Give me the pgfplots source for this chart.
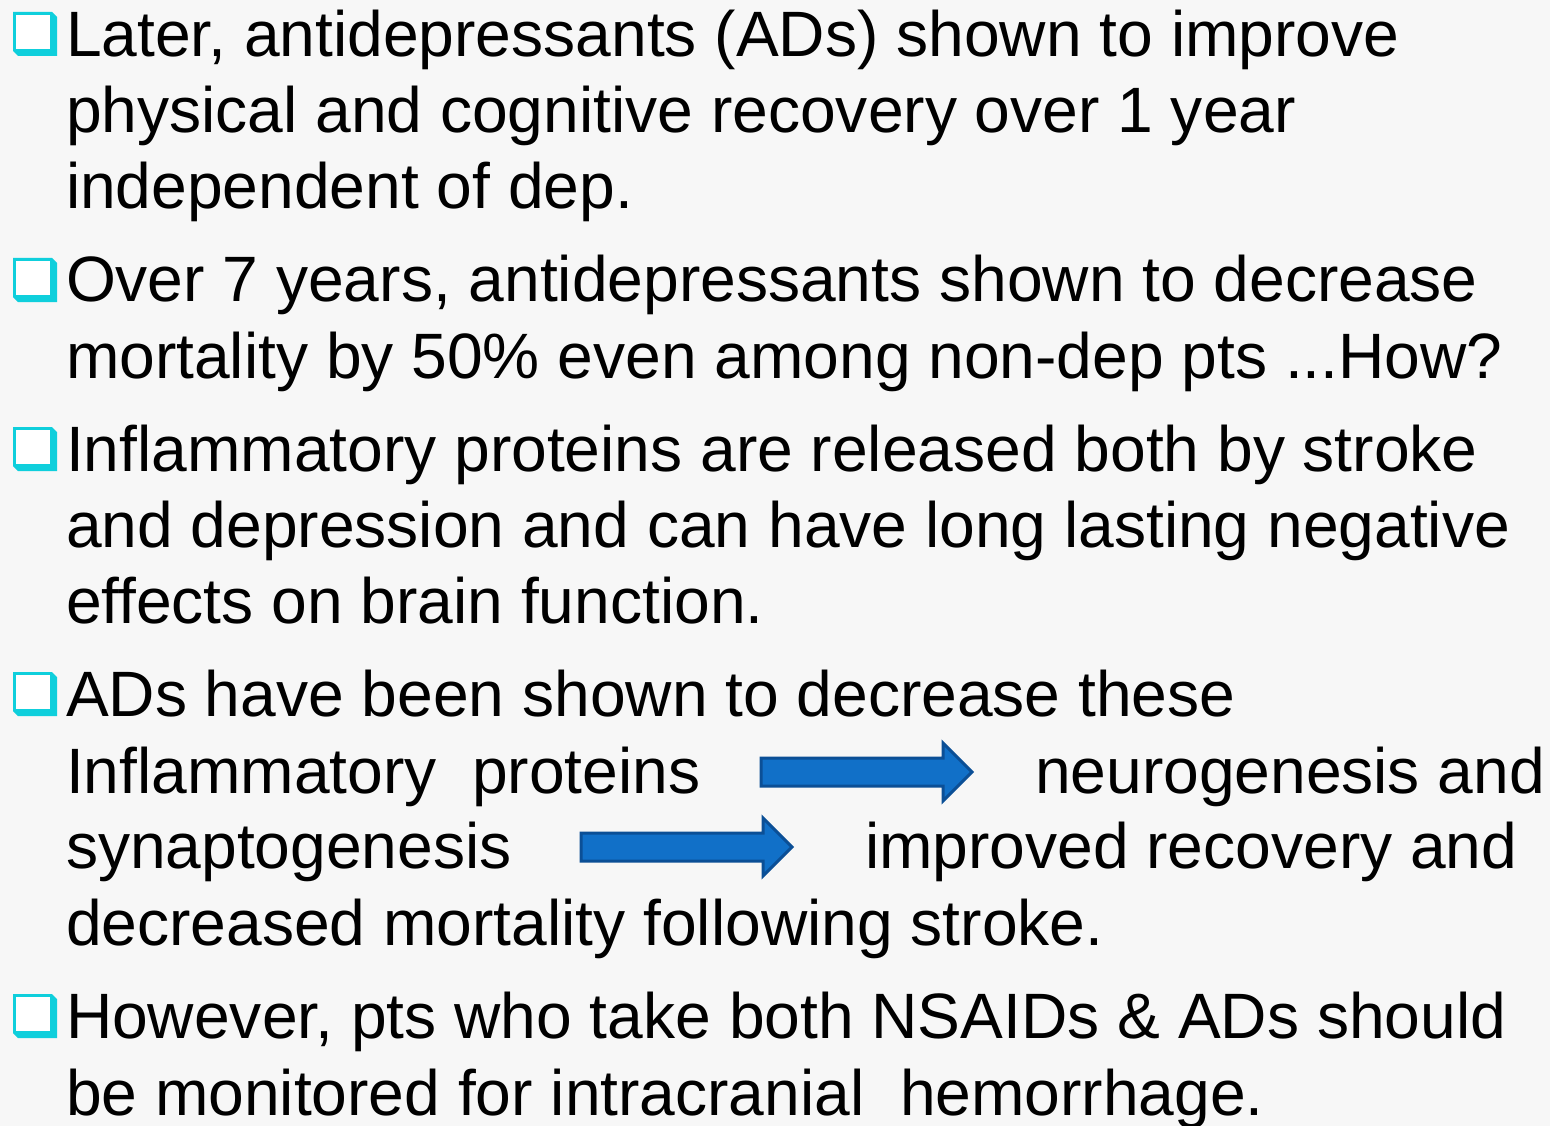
\documentclass[border=0pt]{standalone}
\usepackage{pgfplots}
\pgfplotsset{compat=1.18}
\usepackage{fontspec}
\setmainfont{Liberation Sans}

\definecolor{bg}{HTML}{F7F7F7}
\definecolor{bulletcyan}{HTML}{0FCFDC}
\definecolor{arrowfill}{HTML}{1170C8}
\definecolor{arrowedge}{HTML}{0B4F96}

\tikzset{txt/.style={font=\fontsize{18.25}{21}\selectfont, anchor=base west, inner sep=0pt, outer sep=0pt}}

\begin{document}
\begin{tikzpicture}
\begin{axis}[
    width=15.5cm, height=11.26cm,
    scale only axis,
    xmin=0, xmax=1550,
    ymin=0, ymax=1126,
    y dir=reverse,
    axis lines=none,
    clip=false,
]
% background
\addplot[fill=bg, draw=none] coordinates {(0,0) (1550,0) (1550,1126) (0,1126)} -- cycle;

% bullets (shadowed squares), top y of each
\foreach \t in {12,258,427,672,994} {
    \edef\temp{\noexpand\addplot[fill=bulletcyan, draw=none] coordinates
        {(13,\t) (52,\t) (57,\t+5) (57,\t+44) (18,\t+44) (13,\t+39)} -- cycle;
      \noexpand\addplot[fill=white, draw=none] coordinates
        {(16,\t+3) (50,\t+3) (50,\t+37) (16,\t+37)} -- cycle;}
    \temp
}

% arrows
\addplot[fill=arrowfill, draw=arrowedge, line width=0.3mm] coordinates
    {(761,758) (943,758) (943,743) (972,772) (943,801) (943,786) (761,786)} -- cycle;
\addplot[fill=arrowfill, draw=arrowedge, line width=0.3mm] coordinates
    {(581,833) (763,833) (763,818) (792,847) (763,876) (763,861) (581,861)} -- cycle;

% text
\node[txt] at (axis cs:66,57)  {Later, antidepressants (ADs) shown to improve};
\node[txt] at (axis cs:66,133) {physical and cognitive recovery over 1 year};
\node[txt] at (axis cs:66,209) {independent of dep.};

\node[txt] at (axis cs:66,302) {Over 7 years, antidepressants shown to decrease};
\node[txt] at (axis cs:66,378) {mortality by 50\% even among non-dep pts ...How?};

\node[txt] at (axis cs:66,471) {Inflammatory proteins are released both by stroke};
\node[txt] at (axis cs:66,547) {and depression and can have long lasting negative};
\node[txt] at (axis cs:66,623) {effects on brain function.};

\node[txt] at (axis cs:66,716) {ADs have been shown to decrease these};
\node[txt] at (axis cs:66,793) {Inflammatory~ proteins};
\node[txt] at (axis cs:1035,793) {neurogenesis and};
\node[txt] at (axis cs:66,868) {synaptogenesis};
\node[txt] at (axis cs:865,868) {improved recovery and};
\node[txt] at (axis cs:66,945) {decreased mortality following stroke.};

\node[txt] at (axis cs:66,1038) {However, pts who take both NSAIDs \& ADs should};
\node[txt] at (axis cs:66,1115) {be monitored for intracranial~ hemorrhage.};
\end{axis}
\pgfresetboundingbox
\path (0,0) rectangle (15.5cm,11.26cm);
\end{tikzpicture}
\end{document}
